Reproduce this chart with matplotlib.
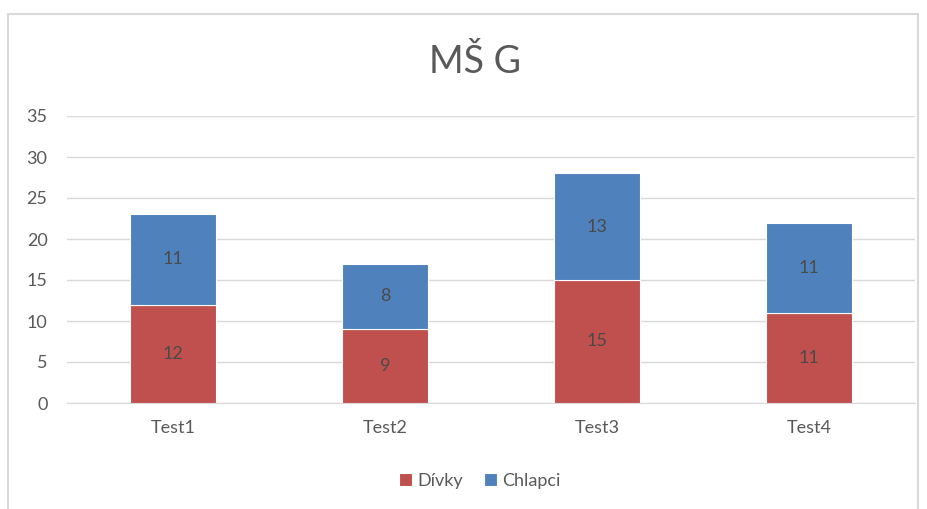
import matplotlib
matplotlib.use("Agg")
import matplotlib.pyplot as plt
import matplotlib.patches as mpatches
import numpy as np

categories = ["Test1", "Test2", "Test3", "Test4"]
divky = [12, 9, 15, 11]
chlapci = [11, 8, 13, 11]

RED = "#C0504D"
BLUE = "#4F81BD"
TEXT = "#595959"

plt.rcParams["font.family"] = ["Lato", "DejaVu Sans"]

fig = plt.figure(figsize=(9.28, 5.09), dpi=100)
# outer chart frame
fig.patches.append(mpatches.Rectangle((8 / 928, -0.05), 910 / 928, 1 - 14 / 509 + 0.05,
                                      transform=fig.transFigure, fill=False,
                                      edgecolor="#D9D9D9", linewidth=1.5))

ax = fig.add_axes([67 / 928, 1 - 403 / 509, 848 / 928, 287 / 509])
x = np.arange(len(categories))
w = 0.41
b1 = ax.bar(x, divky, w, color=RED, edgecolor="white", linewidth=0.8, label="Dívky", zorder=3)
b2 = ax.bar(x, chlapci, w, bottom=divky, color=BLUE, edgecolor="white", linewidth=0.8,
            label="Chlapci", zorder=3)
for vals, bottoms in [(divky, [0] * 4), (chlapci, divky)]:
    for xi, v, b in zip(x, vals, bottoms):
        ax.text(xi, b + v / 2, str(v), ha="center", va="center", fontsize=13,
                color="#4a4a4a", zorder=4)

ax.set_xlim(-0.5, len(categories) - 0.5)
ax.set_ylim(0, 35)
ax.set_yticks(range(0, 36, 5))
ax.set_xticks(x)
ax.set_xticklabels(categories)
ax.grid(axis="y", color="#D9D9D9", linewidth=1, zorder=0)
for s in ["top", "right", "left"]:
    ax.spines[s].set_visible(False)
ax.spines["bottom"].set_color("#D9D9D9")
ax.tick_params(axis="both", length=0, labelsize=13, colors=TEXT)
ax.tick_params(axis="y", pad=14)
ax.tick_params(axis="x", pad=12)

fig.text(475 / 928, 1 - 62 / 509, "MŠ G", ha="center", va="center", fontsize=27, color=TEXT)

fig.legend(handles=[b1, b2], loc="center", bbox_to_anchor=(480 / 928, 1 - 481 / 509), ncol=2,
           frameon=False, fontsize=13, handlelength=0.7, handleheight=0.7,
           handletextpad=0.3, columnspacing=1.2, labelcolor=TEXT)

fig.savefig("out.png", dpi=100)
